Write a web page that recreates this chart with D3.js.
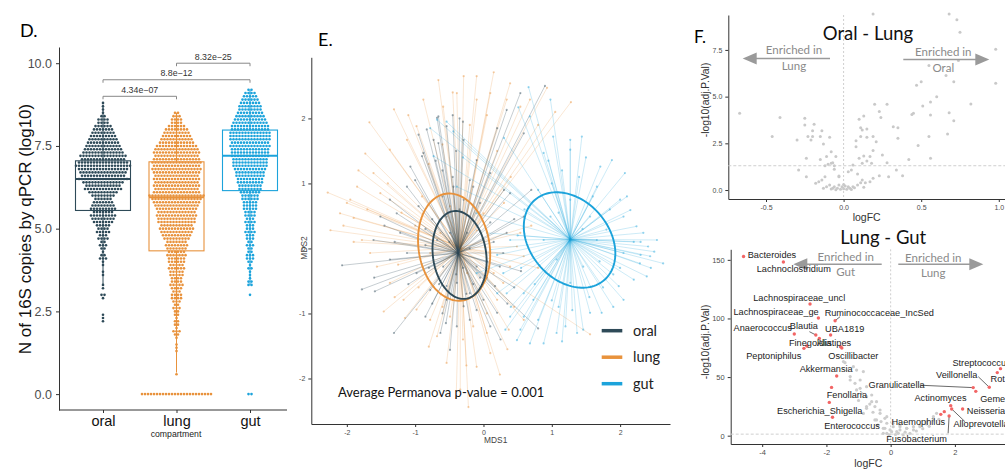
<!DOCTYPE html>
<html>
<head>
<meta charset="utf-8">
<script src="https://cdn.jsdelivr.net/npm/d3@7"></script>
<style>
body { margin: 0; background: #fff; }
svg { display: block; }
</style>
</head>
<body>
<div id="fig"></div>
<script>
// ---- panel D: 16S copies per compartment ----
var groups = ['oral', 'lung', 'gut'];
var binStart = [2.2, 0.6, 3.0];   // first 0.1-log10 bin of each swarm
var oralCounts = [1,1,1,0,0,0,0,1,2,0, 1,1,0,0,1,1,0,1,1,3, 2,1,2,3,2,4,3,5,4,5,
    7,8,9,7,9,8,7,6,8,10, 13,12,14,17,15,16,17,19,17,15, 16,14,13,12,11,10,9,8,7,6, 4,4,2,1,1,1,1];
var lungCounts = [1,0,0,0,0,0,0,1,1,1, 0,1,2,3,1,2,2,1,2,2, 3,2,3,4,4,3,4,5,4,4,
    5,5,6,5,6,6,7,6,7,8, 7,9,10,11,12,11,13,13,14,13, 14,15,16,17,19,16,15,16,15,16,
    15,16,17,16,17,16,15,16,15,14, 12,11,10,9,8,6,4,4,3,2];
var gutCounts = [1,0,0,2,2,1,1,1,2,1, 2,3,3,2,2,3,2,3,3,4, 3,3,4,3,4,4,5,5,5,6,
    6,7,8,8,9,9,10,10,11,12, 12,12,13,13,13,14,13,14,14,14, 13,13,12,11,10,9,8,8,7,6, 5,4,2];
var zeroCounts = [0, 24, 2];
var boxQ1 = [5.55, 4.33, 6.15];
var boxMedian = [6.5, 5.95, 7.2];
var boxQ3 = [7.05, 7.02, 7.98];
var whiskerLow = [3.3, 0.65, 3.3];
var whiskerHigh = [8.75, 8.5, 9.2];
var pairs = [['oral', 'lung'], ['oral', 'gut'], ['lung', 'gut']];
var pLabels = ['4.34e\u221207', '8.8e\u221212', '8.32e\u221225'];
var pHeights = [9.0, 9.5, 10.0];

// ---- panel E: MDS ----
var oralPts = [[-2.07,-0.26],[-1.78,-0.63],[-1.59,-0.66],[-1.31,-1.30],[-0.68,2.01],[-0.66,2.03],[-0.83,1.83],
    [-0.73,1.67],[-0.49,-1.56],[-0.20,-1.10],[0.10,-1.20],[0.20,-0.99],[0.80,-1.23],[0.90,2.50],[0.54,2.39],
    [0.34,2.13],[0.59,1.77],[0.10,1.16],[0.39,0.85],[0.59,0.49],[-1.12,0.95],[-1.37,0.75],[-1.51,0.49],
    [-1.22,0.24],[-0.98,-0.38],[-0.78,-0.64],[-0.54,-0.79],[-0.29,-0.89],[0,-0.79],[0.17,-0.58],[0.24,-0.28],
    [-1.07,1.26],[-0.88,1.47],[-0.54,1.88],[-0.29,1.67],[-0.10,1.36],[-1.12,-0.07],[-1.37,-0.17],[-1.61,0.13],
    [0.34,0.24],[0.29,-0.07],[-0.63,-1.30],[-0.39,-1.20],[-0.90,1.42],[-1.27,0.54],[-0.66,1.62],
    [-0.54,0.49],[-0.20,0.49],[-0.49,0.24],[-0.24,0.24],[-0.59,-0.28],[-0.10,-0.28],[-0.39,-0.53],[-0.29,0.75],
    [-0.44,0.95],[-0.15,0.95],[-0.68,0.13],[0,0.13],[-0.54,-0.58],[-0.20,-0.69],[-0.45,2.05],[-0.30,1.95],
    [-0.60,1.20],[-0.15,-0.55],[0.05,-0.45],[-0.75,-0.85],[-0.95,0.65],[0.45,-0.60],
    [-0.75,0.45],[-0.60,0.80],[-0.45,1.10],[-0.20,1.05],[-0.05,0.70],[0.10,0.40],[0.15,0.10],[0.05,-0.20],
    [-0.05,-0.45],[-0.25,-0.70],[-0.45,-0.72],[-0.65,-0.55],[-0.80,-0.30],[-0.85,0.05],[-0.85,0.30],[-0.35,0.60],
    [-0.40,-0.40],[-0.30,-0.30],[-0.50,0.10],[-0.20,0.00],[-1.00,1.05],[-0.70,1.35],[-0.40,1.50],[0.30,0.90],
    [0.45,0.45],[0.55,-0.35],[0.35,-0.85],[-0.10,-0.95],[-0.60,-1.00],[-1.10,-0.55],[-1.30,0.10],[-1.45,0.35],
    [-0.95,1.75],[-0.35,2.00],[0.20,1.85],[-0.55,-1.15],[0.25,-1.40],[-1.60,-0.45],[-0.85,-1.05],[0.70,0.90]];
var lungPts = [[-2.28,0.86],[-2.24,0.28],[-1.83,1.20],[-1.73,1.46],[-1.67,1.94],[-1.31,2.14],[-0.66,2.59],
    [-0.10,2.65],[0.15,2.71],[1.28,2.25],[1.56,-1.32],[-0.22,-2.44],[0.24,-1.94],[-0.80,-1.51],[-1.46,-0.97],
    [-1.15,-1.07],[-1.95,0.75],[-1.90,0.47],[-2.10,0.54],[-0.68,-1.35],[-0.54,-1.76],[-0.34,-2.17],[-0.10,-1.82],
    [0.10,-1.61],[0.37,-1.25],[0.59,-1.10],[0.59,-0.12],[0.54,0.24],[0.49,0.03],[0.39,-0.28],[0.29,-0.53],
    [-0.29,2.65],[-0.39,2.39],[-0.10,2.29],[0.10,2.39],[0.34,2.29],[0.54,2.18],[0.68,2.29],[0.39,2.54],
    [-0.98,1.88],[-1.37,1.52],[-1.61,1.16],[-1.85,0.95],[-2.00,0.70],[-1.78,0.13],[-1.66,-0.07],[-1.56,-0.28],
    [-1.37,-0.53],[-1.17,-0.79],[-0.98,-0.94],[-0.78,-1.10],[-0.49,-1.05],[-0.15,-1.20],[0.05,-1.30],[0.15,-0.38],
    [0.20,-0.79],[-0.88,2.29],[-0.59,2.18],[-1.12,1.67],[-1.51,0.85],[-0.63,0.24],[-0.10,0.28],[-0.49,0.65],
    [-0.24,-0.38],[0.10,-0.07],[-0.78,-0.07],[0,0.54],[0.93,2.47],
    [-1.20,0.55],[-1.00,0.35],[-0.90,0.80],[-1.40,1.00],[-0.80,1.30],[-0.60,1.60],[-0.20,1.90],[0.20,1.50],
    [0.40,1.10],[0.30,0.70],[0.70,0.35],[0.80,-0.30],[0.45,-0.90],[0.05,-1.00],[-0.30,-1.40],[-0.60,-0.90],
    [-0.95,-0.60],[-1.25,-0.25],[-1.90,0.10],[-2.05,0.35],[-1.70,0.60],[-1.10,2.05],[-0.45,2.40],[0.05,2.05],
    [0.80,1.90],[1.05,2.10],[-0.25,-1.80],[-0.40,-2.30],[0.35,-1.55],[-1.30,-0.75]];
var gutPts = [[0.66,2.48],[0.51,2.17],[1.02,1.72],[1.44,1.72],[1.88,1.36],[2.07,1.16],[2.15,0.59],[2.34,0.24],
    [2.41,0.03],[2.63,-0.23],[2.39,-0.43],[2.20,-0.48],[2.05,-0.79],[1.73,-0.99],[1.46,-1.25],[1.15,-1.43],
    [0.88,-1.46],[0.68,-1.46],[0.49,-1.41],[0.32,-1.25],[0.59,-1.05],[0.34,-0.69],[0.73,-0.79],[-0.10,-0.38],
    [0.10,-0.02],[-0.54,1.95],[-0.78,1.85],[-0.73,1.42],[-0.39,0.95],[-0.10,0.54],[0.05,0.24],[0.39,0.13],
    [0.29,-0.38],[0.98,2.29],[0.68,2.03],[0.88,1.47],[1.27,1.67],[1.71,1.26],[2.00,0.75],[2.24,0.34],
    [2.54,0.13],[2.44,-0.12],[2.29,-0.23],[1.98,-0.58],[1.56,-0.99],[1.37,-1.30],[1.07,-1.30],[0.54,-1.25],
    [0.39,-1.05],[0.59,-0.69],[0.20,-0.69],[1.27,1.52],[1.66,0.95],[2.05,0.49],[1.80,0.29],[2.05,-0.07],
    [0.98,0.49],[1.56,0.49],[1.07,-0.17],[1.46,-0.28],[0.88,0.13],[1.66,0.13],[1.27,0.75],[1.27,-0.53],
    [-0.68,1.98],[-0.44,1.80],[2.50,-0.05],[2.30,0.10],[1.90,-0.40],[0.80,-1.10],[1.10,-0.90],
    [1.00,1.00],[1.15,1.20],[1.40,1.10],[1.60,0.80],[1.85,0.60],[2.20,0.10],[2.30,-0.10],[2.00,-0.30],
    [1.75,-0.60],[1.55,-0.75],[1.30,-0.95],[1.00,-0.80],[0.75,-0.55],[0.55,-0.30],[0.50,0.20],[0.60,0.60],
    [0.80,0.90],[1.10,0.55],[1.45,0.30],[1.70,-0.20],[0.95,1.35],[1.50,1.40],[2.10,0.80],[2.45,-0.30],
    [1.90,-0.90],[1.20,-1.20],[0.40,-0.90],[0.20,-0.10],[-0.30,1.40],[0.30,1.70]];
var centroids = [[-0.37, -0.07], [-0.34, 0.01], [1.27, 0.14]];
var ellCx = [-0.35, -0.43, 1.26];
var ellCy = [-0.10, 0.02, 0.13];
var ellA = [0.68, 0.83, 0.80];
var ellB = [0.39, 0.52, 0.59];
var ellAngle = [-82.8, -81.9, -54];

// ---- panel F top: oral vs lung ----
var topPts = [[0.19,9.43],[0.68,9.43],[0.73,9.11],[0.75,8.45],[0.98,7.54],[0.98,5.71],[0.74,6.93],[0.55,6.66],
    [0.66,6.13],[0.71,5.80],[0.50,5.80],[0.47,5.61],[0.60,5.00],[0.56,4.71],[0.51,4.50],[0.82,4.61],[0.56,4.02],
    [0.45,4.11],[0.44,4.05],[0.68,4.14],[0.71,3.71],[0.55,2.86],[0.67,3.00],[0.48,2.38],[0.56,1.70],[0.42,1.64],
    [-0.67,4.11],[-0.41,3.88],[-0.46,2.86],[-0.25,3.84],[-0.25,3.48],[-0.20,3.18],[-0.30,2.68],[-0.23,2.86],
    [-0.20,2.86],[-0.15,2.86],[-0.13,2.46],[-0.08,2.05],[-0.24,1.70],[-0.15,1.64],[-0.11,1.79],[-0.05,1.79],
    [-0.08,1.43],[-0.12,1.30],[-0.06,1.30],[-0.29,1.07],[-0.24,0.71],[-0.18,0.36],[-0.16,0.45],[-0.14,0.54],
    [-0.12,0.71],[-0.11,0.18],[-0.09,0.27],[-0.06,0.18],[-0.04,0.09],[-0.02,0.04],[0.0,0.07],[0.02,0.04],
    [0.04,0.09],[0.06,0.18],[-0.03,0.27],[0.01,0.21],[-0.01,0.18],[0.03,0.18],[0.09,0.27],[0.11,0.39],
    [0.12,0.54],[0.14,0.39],[-0.03,0.71],[0.03,0.98],[0.05,1.07],[0.09,0.86],[0.06,1.34],[0.12,1.43],
    [0.15,1.55],[0.18,1.43],[0.10,1.70],[0.13,1.82],[0.17,1.79],[0.08,2.64],[0.08,2.32],[0.11,2.86],
    [0.15,2.82],[0.12,3.21],[0.11,3.34],[0.15,3.27],[0.10,3.79],[0.13,3.96],[0.19,2.86],[0.21,2.59],
    [0.19,2.11],[0.20,4.59],[0.28,4.59],[0.23,4.20],[0.24,3.88],[0.32,3.39],[0.35,3.34],[0.35,2.77],
    [0.25,1.88],[0.28,1.46],[0.34,1.07],[0.38,0.77],[0.29,0.71],[0.23,0.77],[0.19,0.63],[0.17,0.45],
    [-0.21,2.68],[-0.19,3.52],[-0.14,3.18],[-0.09,2.82],[-0.10,1.38],[-0.07,1.46],[-0.06,1.11],[-0.03,0.75],
    [-0.07,0.10],[0.07,0.12],[-0.05,0.02],[0.05,0.03],[-0.13,0.10],[0.13,0.15],[0.00,0.30],[-0.08,0.05]];

// ---- panel F bottom: lung vs gut ----
var grayPts = [[-1.06,56.0],[-0.85,54.7],[-1.26,47.5],[-1.11,44.7],[-0.95,40.4],[-0.75,33.3],[-0.59,29.0],
    [-0.49,24.8],[-0.75,23.3],[-0.33,19.1],[-0.18,14.8],[-0.44,13.4],[-0.12,10.6],[0.08,7.7],[-0.23,6.3],
    [-0.02,4.9],[0.29,4.9],[0.50,6.3],[0.71,7.7],[0.91,9.1],[1.12,12.0],[1.33,16.2],[1.43,19.1],[0.29,9.1],
    [0.19,3.4],[-0.12,2.0],[-1.47,63.2],[-1.42,62.3],[-1.16,58.9],[-1.26,50.4],[-0.95,47.5],[-0.75,41.8],
    [-1.06,39.0],[-0.59,34.7],[-0.44,29.0],[-0.75,24.8],[-0.33,21.9],[-0.12,16.2],[-0.49,13.4],[0.08,10.6],
    [0.29,7.7],[-0.18,6.3],[0.50,6.3],[0.71,4.9],[0.91,7.7],[1.12,10.0],[1.33,13.4],[0.03,3.4],[0.24,2.0],
    [-0.23,2.0],[0.60,2.0],[0.39,0.6],[-0.90,36.0],[-0.65,27.0],[-0.55,20.0],[-0.30,12.0],[-0.40,9.0],
    [0.15,1.0],[-0.05,0.8],[0.45,3.0],[0.80,4.0],[1.00,6.0],[1.20,8.0],[1.50,14.0],[-1.00,30.0],[-0.85,19.0]];
var sigGenus = ['Bacteroides', 'Lachnoclostridium', 'Lachnospiraceae_uncl', 'Lachnospiraceae_ge',
    'Ruminococcaceae_IncSed', 'UBA1819', 'Anaerococcus', 'Blautia', 'Finegoldia', 'Alistipes', 'Peptoniphilus',
    'Oscillibacter', 'Akkermansia', 'Fenollaria', 'Escherichia_Shigella', 'Enterococcus', 'Streptococcus',
    'Rothia', 'Veillonella', 'Granulicatella', 'Gemella', 'Actinomyces', 'Neisseria', 'Alloprevotella',
    'Haemophilus', 'Fusobacterium', '', ''];
var sigLogFC = [-4.58, -3.34, -2.51, -2.25, -1.73, -1.87, -3.00, -2.33, -2.61, -1.56, -2.70, -1.52, -1.68, -1.84,
    -1.91, -1.81, 3.42, 3.32, 3.07, 2.57, 2.65, 1.87, 2.24, 1.90, 1.67, 1.82, -2.22, 1.56];
var sigLogP = [152.8, 148.2, 112.3, 100.4, 98.1, 85.9, 86.7, 85.9, 76.5, 75.9, 74.5, 74.8, 50.9, 41.2, 28.4, 15.7,
    57.2, 53.8, 41.3, 41.0, 37.8, 25.6, 22.8, 22.8, 20.5, 16.8, 83.0, 18.2];

// label placement (pixels from the point), like ggrepel did it
var labelNudge = {
    'Bacteroides': [28.4, -2], 'Lachnoclostridium': [10.4, 7.3], 'Lachnospiraceae_uncl': [-10.8, -6.7],
    'Lachnospiraceae_ge': [-42.3, -6.3], 'Ruminococcaceae_IncSed': [44.2, -8.4], 'UBA1819': [14.1, -6.3],
    'Anaerococcus': [-31.6, -6], 'Blautia': [-11.9, -9.7], 'Finegoldia': [3.3, -3.7], 'Alistipes': [-6.5, -4.4],
    'Peptoniphilus': [-30.2, 7.7], 'Oscillibacter': [11.5, 7.7], 'Akkermansia': [-10.5, -7.7],
    'Fenollaria': [15.3, 7.7], 'Escherichia_Shigella': [-9.6, 8.4], 'Enterococcus': [19.5, 8.4],
    'Streptococcus': [-19, -6], 'Rothia': [6.6, 5.7], 'Veillonella': [-32.5, -12.3],
    'Granulicatella': [-76.6, -2.4], 'Gemella': [21.5, 7], 'Actinomyces': [-10.2, -7.4], 'Neisseria': [23.3, 2.3],
    'Alloprevotella': [29.3, 15], 'Haemophilus': [-26, 10], 'Fusobacterium': [-32.6, 22.3]
};
var labelSegment = {
    'Ruminococcaceae_IncSed': [5, -4], 'Blautia': [-6.4, -3.3], 'Veillonella': [-11, -10.6],
    'Granulicatella': [-53.3, -2.4], 'Alloprevotella': [13.3, 12.7], 'Fusobacterium': [-1, 17.3]
};

var colors = { oral: '#2E4A58', lung: '#E8923C', gut: '#1CA3DB' };
var sans = 'Liberation Sans, Arial, sans-serif';
var cali = 'Lato, sans-serif';

var svg = d3.select('#fig').
    append('svg').
    attr('width', 1005).
    attr('height', 470).
    style('background', '#fff');

function styleAxis(g, size) {
    g.select('.domain').attr('stroke', '#333').attr('stroke-width', 1);
    g.selectAll('.tick line').attr('stroke', '#333');
    g.selectAll('.tick text').
        attr('fill', '#4d4d4d').
        style('font-family', sans).
        style('font-size', size + 'px');
}

function plain(d) { return String(d); }

// =========== D ===========
var xD = d3.scalePoint().domain(groups).range([103, 250]);
var yD = d3.scaleLinear().domain([-0.48, 10.49]).range([410, 47]);

svg.append('text').
    attr('x', 20).attr('y', 37).
    style('font-family', cali).style('font-size', '18px').
    text('D.');

var gy = svg.append('g').attr('transform', 'translate(59,0)').
    call(d3.axisLeft(yD).tickValues([0, 2.5, 5, 7.5, 10]).tickFormat(d3.format('.1f')).tickSize(3).tickPadding(4).tickSizeOuter(0));
styleAxis(gy, 12.5);

var gx = svg.append('g').attr('transform', 'translate(0,410)').
    call(d3.axisBottom(xD).tickSize(3).tickPadding(3));
gx.select('.domain').remove();
styleAxis(gx, 14.5);
gx.selectAll('.tick text').attr('fill', '#111');
svg.append('line').attr('x1', 59).attr('x2', 287).attr('y1', 410).attr('y2', 410).attr('stroke', '#333');

svg.append('text').
    attr('transform', 'translate(31,229) rotate(-90)').
    attr('text-anchor', 'middle').
    style('font-family', sans).style('font-size', '17px').attr('fill', '#111').
    text('N of 16S copies by qPCR (log10)');
svg.append('text').
    attr('x', 176).attr('y', 437).attr('text-anchor', 'middle').
    style('font-family', sans).style('font-size', '8.7px').attr('fill', '#222').
    text('compartment');

var counts = [oralCounts, lungCounts, gutCounts];
groups.forEach(function (grp, k) {
    var cx = xD(grp);
    var col = colors[grp];
    var g = svg.append('g');
    g.append('line').attr('x1', cx).attr('x2', cx).attr('y1', yD(boxQ3[k])).attr('y2', yD(whiskerHigh[k])).attr('stroke', col);
    g.append('line').attr('x1', cx).attr('x2', cx).attr('y1', yD(boxQ1[k])).attr('y2', yD(whiskerLow[k])).attr('stroke', col);
    g.append('rect').
        attr('x', cx - 27.5).attr('width', 55).
        attr('y', yD(boxQ3[k])).attr('height', yD(boxQ1[k]) - yD(boxQ3[k])).
        attr('fill', 'none').attr('stroke', col).attr('stroke-width', 1.1);
    g.append('line').attr('x1', cx - 27.5).attr('x2', cx + 27.5).
        attr('y1', yD(boxMedian[k])).attr('y2', yD(boxMedian[k])).
        attr('stroke', col).attr('stroke-width', 2);

    // dot rows, one row per 0.1 bin
    var dots = [];
    counts[k].forEach(function (n, i) {
        var v = (Math.round(binStart[k] * 10) + i) / 10;
        for (var j = 0; j < n; j++) dots.push({ v: v, off: (j - (n - 1) / 2) * 3 });
    });
    for (var j = 0; j < zeroCounts[k]; j++) dots.push({ v: 0, off: (j - (zeroCounts[k] - 1) / 2) * 3 });
    g.selectAll('circle').data(dots).enter().append('circle').
        attr('cx', function (d) { return cx + d.off; }).
        attr('cy', function (d) { return yD(d.v); }).
        attr('r', 1.3).
        attr('fill', col);
});

pairs.forEach(function (p, i) {
    var x1 = xD(p[0]), x2 = xD(p[1]), y = yD(pHeights[i]);
    svg.append('path').
        attr('d', 'M' + x1 + ',' + (y + 3) + 'V' + y + 'H' + x2 + 'V' + (y + 3)).
        attr('fill', 'none').attr('stroke', '#888').attr('stroke-width', 1);
    svg.append('text').
        attr('x', (x1 + x2) / 2).attr('y', y - 3.5).attr('text-anchor', 'middle').
        style('font-family', sans).style('font-size', '8.8px').attr('fill', '#333').
        text(pLabels[i]);
});

// =========== E ===========
var xE = d3.scaleLinear().domain([-2.52, 2.73]).range([311.3, 670]);
var yE = d3.scaleLinear().domain([-2.70, 2.94]).range([424, 57.3]);

svg.append('text').
    attr('x', 318).attr('y', 46).
    style('font-family', cali).style('font-size', '18px').
    text('E.');

var ex = svg.append('g').attr('transform', 'translate(0,424)').
    call(d3.axisBottom(xE).tickValues([-2, -1, 0, 1, 2]).tickFormat(plain).tickSize(3).tickSizeOuter(0));
styleAxis(ex, 7);
var ey = svg.append('g').attr('transform', 'translate(311.3,0)').
    call(d3.axisLeft(yE).tickValues([-2, -1, 0, 1, 2]).tickFormat(plain).tickSize(3).tickSizeOuter(0));
styleAxis(ey, 7);

svg.append('text').attr('x', 495.7).attr('y', 443).attr('text-anchor', 'middle').
    style('font-family', sans).style('font-size', '8.4px').attr('fill', '#444').text('MDS1');
svg.append('text').attr('transform', 'translate(307,248) rotate(-90)').attr('text-anchor', 'middle').
    style('font-family', sans).style('font-size', '8.4px').attr('fill', '#444').text('MDS2');

var ptsE = [oralPts, lungPts, gutPts];
var drawOrder = [1, 0, 2];
drawOrder.forEach(function (k) {
    var col = colors[groups[k]];
    var c = centroids[k];
    var g = svg.append('g');
    g.selectAll('line').data(ptsE[k]).enter().append('line').
        attr('x1', xE(c[0])).attr('y1', yE(c[1])).
        attr('x2', function (d) { return xE(d[0]); }).
        attr('y2', function (d) { return yE(d[1]); }).
        attr('stroke', col).attr('stroke-width', 0.8).
        attr('stroke-opacity', k === 0 ? 0.35 : 0.28);
    g.selectAll('circle').data(ptsE[k]).enter().append('circle').
        attr('cx', function (d) { return xE(d[0]); }).
        attr('cy', function (d) { return yE(d[1]); }).
        attr('r', 1.1).attr('fill', col).attr('fill-opacity', 0.45);
});

var ellLine = d3.line().curve(d3.curveLinearClosed);
[1, 0, 2].forEach(function (k) {
    var phi = ellAngle[k] * Math.PI / 180;
    var ring = d3.range(0, 2 * Math.PI, Math.PI / 60).map(function (t) {
        var ex = ellA[k] * Math.cos(t), ey2 = ellB[k] * Math.sin(t);
        return [xE(ellCx[k] + ex * Math.cos(phi) - ey2 * Math.sin(phi)),
                yE(ellCy[k] + ex * Math.sin(phi) + ey2 * Math.cos(phi))];
    });
    svg.append('path').attr('d', ellLine(ring)).
        attr('fill', 'none').attr('stroke', colors[groups[k]]).attr('stroke-width', 1.9);
});

groups.forEach(function (grp, i) {
    var y = 330.7 + i * 26.5;
    svg.append('line').attr('x1', 601.7).attr('x2', 622.3).attr('y1', y).attr('y2', y).
        attr('stroke', colors[grp]).attr('stroke-width', 3.5);
    svg.append('text').attr('x', 633).attr('y', y).attr('dy', '0.35em').
        style('font-family', cali).style('font-size', '14.5px').attr('fill', '#222').text(grp);
});

svg.append('text').attr('x', 338).attr('y', 397).
    style('font-family', cali).style('font-size', '13px').attr('fill', '#111').
    text('Average Permanova p-value = 0.001');

// =========== F ===========
svg.append('text').attr('x', 694).attr('y', 43).
    style('font-family', cali).style('font-size', '17px').text('F.');

function arrow(x1, x2, y) {
    var dir = x2 < x1 ? -1 : 1;
    svg.append('line').attr('x1', x1).attr('x2', x2 - dir * 12).attr('y1', y).attr('y2', y).
        attr('stroke', '#9a9a9a').attr('stroke-width', 1.6);
    svg.append('path').
        attr('d', 'M' + x2 + ',' + y + 'L' + (x2 - dir * 14) + ',' + (y - 6) + 'L' + (x2 - dir * 14) + ',' + (y + 6) + 'Z').
        attr('fill', '#9a9a9a');
}
function note(x, y, lines) {
    lines.forEach(function (s, i) {
        svg.append('text').attr('x', x).attr('y', y + i * 15.5).attr('text-anchor', 'middle').
            style('font-family', cali).style('font-size', '11.5px').attr('fill', '#8a8a8a').text(s);
    });
}

// top volcano
var xT = d3.scaleLinear().domain([-0.743, 1.04]).range([728.3, 1005]);
var yT = d3.scaleLinear().domain([-0.48, 9.37]).range([199, 15]);
var tx = svg.append('g').attr('transform', 'translate(0,199)').
    call(d3.axisBottom(xT).tickValues([-0.5, 0, 0.5, 1.0]).tickFormat(function (d) { return d.toFixed(1); }).tickSize(3).tickSizeOuter(0));
styleAxis(tx, 7);
var ty = svg.append('g').attr('transform', 'translate(728.3,0)').
    call(d3.axisLeft(yT).tickValues([0, 2.5, 5, 7.5]).tickFormat(d3.format('.1f')).tickSize(3).tickSizeOuter(0));
styleAxis(ty, 7);

svg.append('line').attr('x1', xT(0)).attr('x2', xT(0)).attr('y1', 15).attr('y2', 199).
    attr('stroke', '#cfcfcf').attr('stroke-dasharray', '2,2');
svg.append('line').attr('x1', 728.3).attr('x2', 1005).attr('y1', yT(1.3)).attr('y2', yT(1.3)).
    attr('stroke', '#cfcfcf').attr('stroke-dasharray', '3,2');
svg.append('g').selectAll('circle').data(topPts).enter().append('circle').
    attr('cx', function (d) { return xT(d[0]); }).
    attr('cy', function (d) { return yT(d[1]); }).
    attr('r', 1.5).attr('fill', '#c9c9c9');

svg.append('text').attr('x', 868).attr('y', 40).attr('text-anchor', 'middle').
    style('font-family', cali).style('font-size', '18.5px').attr('fill', '#111').text('Oral - Lung');
arrow(830, 742.7, 58.5);
arrow(903.3, 989.3, 59.5);
note(794, 54, ['Enriched in', 'Lung']);
note(943.3, 56, ['Enriched in', 'Oral']);
svg.append('text').attr('x', 866.7).attr('y', 221).attr('text-anchor', 'middle').
    style('font-family', sans).style('font-size', '10.5px').attr('fill', '#333').text('logFC');
svg.append('text').attr('transform', 'translate(709,100) rotate(-90)').attr('text-anchor', 'middle').
    style('font-family', sans).style('font-size', '10.3px').attr('fill', '#333').text('-log10(adj.P.Val)');

// bottom volcano
var xB = d3.scaleLinear().domain([-4.98, 3.56]).range([730.7, 1005]);
var yB = d3.scaleLinear().domain([-7.1, 159]).range([444, 249.3]);
var bx = svg.append('g').attr('transform', 'translate(0,444)').
    call(d3.axisBottom(xB).tickValues([-4, -2, 0, 2]).tickFormat(plain).tickSize(3).tickSizeOuter(0));
styleAxis(bx, 7.5);
var by = svg.append('g').attr('transform', 'translate(730.7,0)').
    call(d3.axisLeft(yB).tickValues([0, 50, 100, 150]).tickFormat(plain).tickSize(3).tickSizeOuter(0));
styleAxis(by, 7.5);

svg.append('line').attr('x1', xB(0)).attr('x2', xB(0)).attr('y1', 249.3).attr('y2', 444).
    attr('stroke', '#cfcfcf').attr('stroke-dasharray', '2,2');
svg.append('line').attr('x1', 730.7).attr('x2', 1005).attr('y1', yB(1.3)).attr('y2', yB(1.3)).
    attr('stroke', '#cfcfcf').attr('stroke-dasharray', '3,2');
svg.append('g').selectAll('circle').data(grayPts).enter().append('circle').
    attr('cx', function (d) { return xB(d[0]); }).
    attr('cy', function (d) { return yB(d[1]); }).
    attr('r', 1.6).attr('fill', '#cdcdcd');

svg.append('text').attr('x', 883.3).attr('y', 243.5).attr('text-anchor', 'middle').
    style('font-family', cali).style('font-size', '18.5px').attr('fill', '#111').text('Lung - Gut');
arrow(881.7, 793.3, 264.3);
arrow(898.3, 983.3, 264.3);
note(845.7, 260.7, ['Enriched in', 'Gut']);
note(933.3, 261.5, ['Enriched in', 'Lung']);
svg.append('text').attr('x', 868.3).attr('y', 467).attr('text-anchor', 'middle').
    style('font-family', sans).style('font-size', '10.5px').attr('fill', '#333').text('logFC');
svg.append('text').attr('transform', 'translate(709,342) rotate(-90)').attr('text-anchor', 'middle').
    style('font-family', sans).style('font-size', '10.3px').attr('fill', '#333').text('-log10(adj.P.Val)');

var sig = sigGenus.map(function (name, i) {
    return { name: name, px: xB(sigLogFC[i]), py: yB(sigLogP[i]) };
});
sig.forEach(function (d) {
    var seg = labelSegment[d.name];
    if (seg) {
        svg.append('line').attr('x1', d.px + seg[0]).attr('y1', d.py + seg[1]).attr('x2', d.px).attr('y2', d.py).
            attr('stroke', '#444').attr('stroke-width', 0.8);
    }
});
svg.append('g').selectAll('circle').data(sig).enter().append('circle').
    attr('cx', function (d) { return d.px; }).
    attr('cy', function (d) { return d.py; }).
    attr('r', 1.7).attr('fill', '#F26565');
svg.append('g').selectAll('text').data(sig.filter(function (d) { return d.name; })).enter().append('text').
    attr('x', function (d) { return d.px + labelNudge[d.name][0]; }).
    attr('y', function (d) { return d.py + labelNudge[d.name][1]; }).
    attr('dy', '0.35em').attr('text-anchor', 'middle').
    style('font-family', sans).style('font-size', '9.2px').attr('fill', '#222').
    text(function (d) { return d.name; });
</script>
</body>
</html>
